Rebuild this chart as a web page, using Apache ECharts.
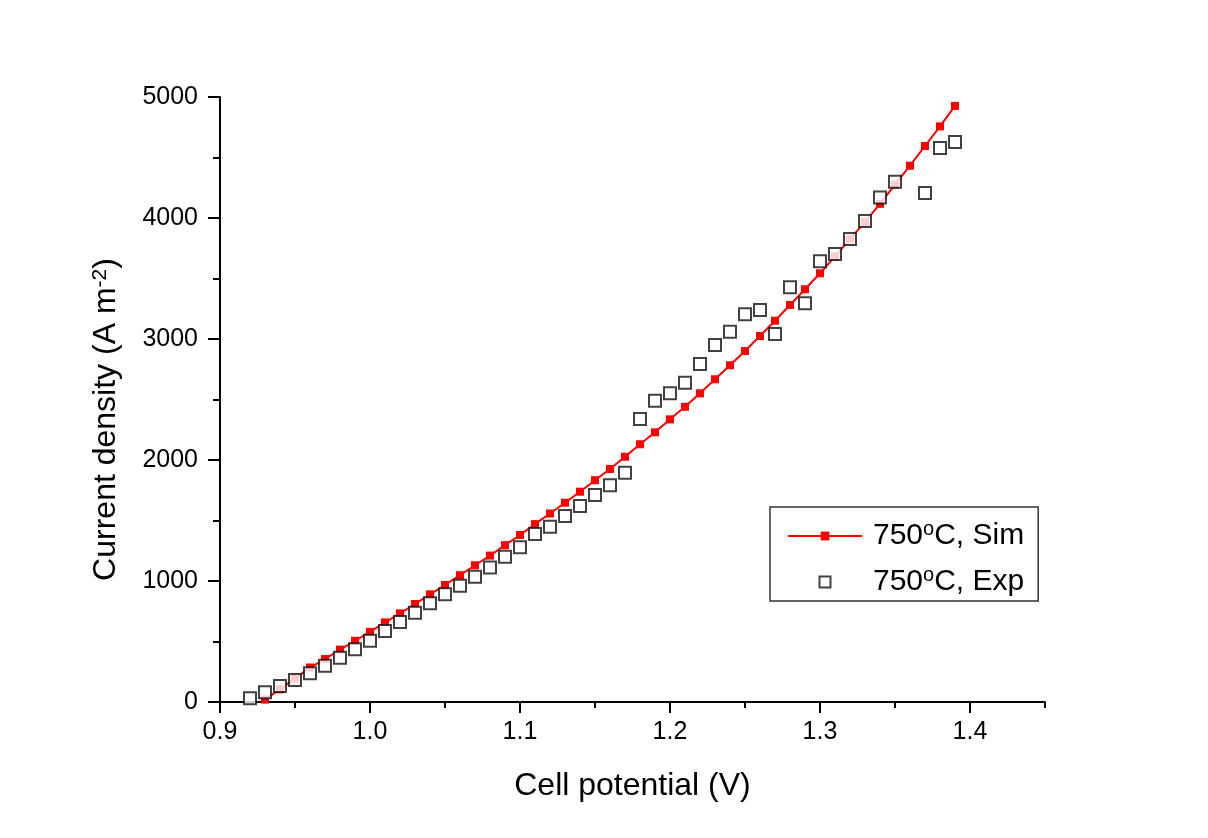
<!DOCTYPE html>
<html>
<head>
<meta charset="utf-8">
<script src="https://cdn.jsdelivr.net/npm/echarts@6/dist/echarts.min.js"></script>
<style>
html,body{margin:0;padding:0;background:#fff;}
#chart{width:1208px;height:838px;}
</style>
</head>
<body>
<div id="chart"></div>
<script>
// ---- data ----
var simX = [0.93,0.94,0.95,0.96,0.97,0.98,0.99,1.00,1.01,1.02,1.03,1.04,1.05,1.06,1.07,1.08,1.09,1.10,1.11,1.12,1.13,1.14,1.15,1.16,1.17,1.18,1.19,1.20,1.21,1.22,1.23,1.24,1.25,1.26,1.27,1.28,1.29,1.30,1.31,1.32,1.33,1.34,1.35,1.36,1.37,1.38,1.39];
var simY = [20,105,195,285,355,433,506,580,658,732,810,890,967,1048,1130,1210,1296,1380,1470,1558,1647,1738,1833,1926,2027,2130,2229,2336,2440,2551,2667,2783,2901,3025,3151,3281,3411,3543,3683,3826,3968,4117,4275,4432,4595,4757,4926];
var expX = [0.92,0.93,0.94,0.95,0.96,0.97,0.98,0.99,1.00,1.01,1.02,1.03,1.04,1.05,1.06,1.07,1.08,1.09,1.10,1.11,1.12,1.13,1.14,1.15,1.16,1.17,1.18,1.19,1.20,1.21,1.22,1.23,1.24,1.25,1.26,1.27,1.28,1.29,1.30,1.31,1.32,1.33,1.34,1.35,1.37,1.38,1.39];
var expY = [30,80,132,182,237,300,366,435,507,587,661,738,816,890,961,1036,1112,1201,1278,1388,1449,1537,1620,1711,1791,1895,2339,2490,2551,2639,2793,2950,3060,3204,3240,3041,3427,3295,3642,3702,3826,3975,4170,4300,4207,4578,4628];
var seriesNames = ['750°C, Sim', '750°C, Exp'];
var xTitle = 'Cell potential (V)';
var yTitle = 'Current density (A m{s|-2})';

function pairs(xs, ys){ return xs.map(function(x,i){ return [x, ys[i]]; }); }

var FONT = '"Liberation Sans", Arial, sans-serif';
var chart = echarts.init(document.getElementById('chart'), null, {renderer:'canvas'});
var option = {
  backgroundColor: '#ffffff',
  animation: false,
  textStyle: { fontFamily: FONT, color: '#000' },
  grid: [
    { left: 220, right: 163, top: 97, bottom: 136, containLabel: false },
    { left: 220, right: 238, top: 97, bottom: 136, containLabel: false }
  ],
  xAxis: [
    {
      type: 'value', gridIndex: 0, min: 0.9, max: 1.45, interval: 0.05,
      axisLine: { show: true, lineStyle: { color: '#000', width: 2 } },
      axisTick: { show: true, inside: false, length: 6, lineStyle: { color: '#000', width: 2 } },
      axisLabel: { show: false },
      splitLine: { show: false },
      name: xTitle, nameLocation: 'middle', nameGap: 68,
      nameTextStyle: { fontSize: 32, color: '#000', fontFamily: FONT }
    },
    {
      type: 'value', gridIndex: 1, min: 0.9, max: 1.4, interval: 0.1,
      axisLine: { show: false },
      axisTick: { show: true, inside: false, length: 11, lineStyle: { color: '#000', width: 2 } },
      axisLabel: { show: true, margin: 18, fontSize: 25, color: '#000', fontFamily: FONT,
        formatter: function(v){ return v.toFixed(1); } },
      splitLine: { show: false }
    }
  ],
  yAxis: [
    {
      type: 'value', gridIndex: 0, min: 0, max: 5000, interval: 1000,
      axisLine: { show: true, lineStyle: { color: '#000', width: 2 } },
      axisTick: { show: true, inside: false, length: 12, lineStyle: { color: '#000', width: 2 } },
      minorTick: { show: true, splitNumber: 2, length: 7, lineStyle: { color: '#000', width: 2 } },
      axisLabel: { show: true, margin: 22, fontSize: 25, color: '#000', fontFamily: FONT,
        formatter: function(v){ return String(v); } },
      splitLine: { show: false },
      name: yTitle, nameLocation: 'middle', nameGap: 98, nameRotate: 90,
      nameTextStyle: { fontSize: 32, color: '#000', fontFamily: FONT, padding: [0, 40, 0, 0],
        rich: { s: { fontSize: 21, verticalAlign: 'top', fontFamily: FONT, color: '#000' } } }
    },
    { type: 'value', gridIndex: 1, min: 0, max: 5000, show: false }
  ],
  legend: {
    orient: 'vertical', left: 770, top: 507,
    padding: [12, 14, 2, 17], itemGap: 12,
    itemWidth: 74, itemHeight: 11,
    borderColor: '#333', borderWidth: 1.5, backgroundColor: '#fff',
    data: [
      { name: seriesNames[0] },
      { name: seriesNames[1], icon: 'path://M0,0L10,0L10,10L0,10Z',
        itemStyle: { color: '#ffffff', borderColor: '#111', borderWidth: 2 } }
    ],
    formatter: function(name){
      var parts = name.split('°');
      return '{n|' + parts[0] + '}{s|o}{n|' + parts[1] + '}';
    },
    textStyle: {
      fontFamily: FONT, color: '#000', fontSize: 30, padding: [0, 0, 0, 6],
      rich: {
        n: { fontSize: 30, fontFamily: FONT, color: '#000', lineHeight: 34 },
        s: { fontSize: 20, fontFamily: FONT, color: '#000', lineHeight: 20, padding: [0, 0, 14, 0] }
      }
    }
  },
  series: [
    {
      name: seriesNames[0], type: 'line', xAxisIndex: 0, yAxisIndex: 0,
      data: pairs(simX, simY),
      symbol: 'rect', symbolSize: 8, showAllSymbol: true,
      lineStyle: { color: '#ff0000', width: 2 },
      itemStyle: { color: '#ff0000' },
      z: 2
    },
    {
      name: seriesNames[1], type: 'scatter', xAxisIndex: 0, yAxisIndex: 0,
      data: pairs(expX, expY),
      symbol: 'emptyRect', symbolSize: 12,
      itemStyle: { color: '#111', borderColor: '#111', borderWidth: 1.8 },
      z: 3
    }
  ]
};
chart.setOption(option);
</script>
</body>
</html>
